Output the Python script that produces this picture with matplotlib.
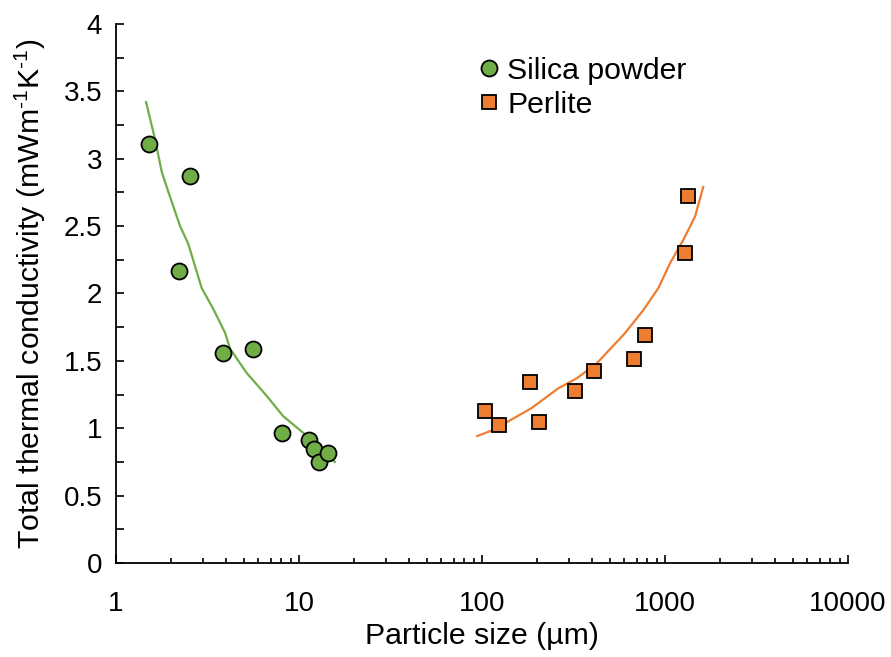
import numpy as np
import matplotlib
matplotlib.use('Agg')
import matplotlib.pyplot as plt
from matplotlib.ticker import MultipleLocator, FixedLocator, LogLocator, NullFormatter

plt.rcParams['font.family'] = ['Liberation Sans', 'DejaVu Sans']
plt.rcParams['mathtext.fontset'] = 'custom'
plt.rcParams['mathtext.rm'] = 'Liberation Sans'
plt.rcParams['mathtext.it'] = 'Liberation Sans:italic'

# silica powder measurements
silica_size = [1.51, 2.54, 2.21, 3.84, 5.6, 8.07, 11.3, 12.1, 12.9, 14.4]
silica_k = [3.11, 2.87, 2.17, 1.56, 1.59, 0.965, 0.913, 0.846, 0.75, 0.816]
# silica trend line
silica_fit_size = [1.46, 1.63, 1.78, 1.97, 2.24, 2.48, 2.94, 3.40, 3.94, 4.2, 5.18, 6.66, 8.19, 10.5, 15.7]
silica_fit_k = [3.42, 3.15, 2.90, 2.72, 2.50, 2.37, 2.04, 1.885, 1.71, 1.59, 1.41, 1.24, 1.09, 0.968, 0.75]

# perlite measurements
perlite_size = [104, 124, 183, 205, 322, 409, 677, 777, 1286, 1336]
perlite_k = [1.128, 1.024, 1.343, 1.046, 1.276, 1.425, 1.514, 1.69, 2.30, 2.72]
# perlite trend line
perlite_fit_size = [94.3, 115, 186, 261, 329, 423, 604, 762, 920, 1065, 1259, 1459, 1618]
perlite_fit_k = [0.942, 0.987, 1.148, 1.296, 1.37, 1.48, 1.705, 1.877, 2.04, 2.224, 2.397, 2.57, 2.79]

green = '#70AD47'
orange = '#ED7D31'

fig = plt.figure(figsize=(8.91, 6.57), dpi=100)
ax = fig.add_axes([0.1302, 0.1431, 0.8215, 0.8204])

ax.plot(silica_fit_size, silica_fit_k, color=green, lw=1.6, zorder=2)
ax.plot(perlite_fit_size, perlite_fit_k, color=orange, lw=1.6, zorder=2)
ax.plot(silica_size, silica_k, 'o', ms=11.5, mfc=green, mec='black', mew=1.3,
        label='Silica powder', zorder=3)
ax.plot(perlite_size, perlite_k, 's', ms=10, mfc=orange, mec='black', mew=1.3,
        label='Perlite', zorder=3)

ax.set_xscale('log')
ax.set_xlim(1, 10000)
ax.set_ylim(0, 4)

ax.xaxis.set_major_locator(FixedLocator([1, 10, 100, 1000, 10000]))
ax.xaxis.set_major_formatter(plt.FuncFormatter(lambda v, p: '%d' % v))
ax.xaxis.set_minor_locator(LogLocator(base=10, subs=np.arange(2, 10)))
ax.xaxis.set_minor_formatter(NullFormatter())

ax.yaxis.set_major_locator(MultipleLocator(0.5))
ax.yaxis.set_minor_locator(MultipleLocator(0.25))
ax.yaxis.set_major_formatter(plt.FuncFormatter(lambda v, p: ('%g' % v)))

ax.tick_params(axis='x', which='major', direction='in', length=6, width=1.2, labelsize=20, pad=20)
ax.tick_params(axis='x', which='minor', direction='in', length=3.8, width=1.2)
ax.tick_params(axis='y', which='both', direction='in', length=5.5, width=1.2, labelsize=20, pad=10)

for side in ['top', 'right']:
    ax.spines[side].set_visible(False)
for side in ['left', 'bottom']:
    ax.spines[side].set_linewidth(1.3)

ax.set_xlabel('Particle size (\u00b5m)', fontsize=21.8, labelpad=4)
ax.set_ylabel(r'Total thermal conductivity (mWm$^{\text{-1}}$K$^{\text{-1}}$)', fontsize=21.8, labelpad=11)

ax.legend(loc='upper left', bbox_to_anchor=(0.45, 0.99), frameon=False, fontsize=21.8,
          handletextpad=0.05, labelspacing=0.2, handlelength=1.1)

fig.savefig('out.png', dpi=100)
